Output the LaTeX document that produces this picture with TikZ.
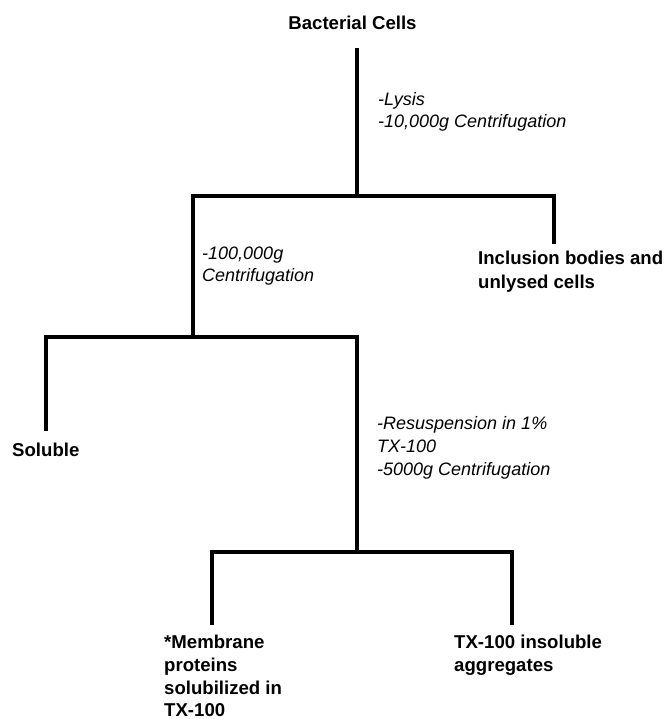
\documentclass[tikz,border=0pt]{standalone}
\usepackage{fontspec}
\setmainfont{Liberation Sans}
\begin{document}
\begin{tikzpicture}[x=1pt,y=-1pt,
  tree/.style={line width=4pt,line join=miter,line cap=rect},
  res/.style={font=\fontsize{18.6}{22}\selectfont\bfseries,inner sep=0pt,anchor=base west},
  cond/.style={font=\fontsize{18}{22}\selectfont\itshape,inner sep=0pt,anchor=base west}]
\fill[white] (0,0) rectangle (668,719);
\useasboundingbox (0,0) rectangle (668,719);
% text nodes
\node[res,anchor=base] (cells) at (352.5,30) {Bacterial Cells};
\node[cond] (lys1) at (378,106) {-Lysis};
\node[cond] (lys2) at (378,128) {-10,000g Centrifugation};
\node[cond] (c1) at (202,259) {-100,000g};
\node[cond] (c2) at (202,281) {Centrifugation};
\node[res] (inc1) at (478,264) {Inclusion bodies and};
\node[res] (inc2) at (478,288) {unlysed cells};
\node[res] (sol) at (12,456) {Soluble};
\node[cond] (r1) at (377,429) {-Resuspension in 1\%};
\node[cond] (r2) at (377,452) {TX-100};
\node[cond] (r3) at (377,475) {-5000g Centrifugation};
\node[res] (m1) at (164,648) {*Membrane};
\node[res] (m2) at (164,671) {proteins};
\node[res] (m3) at (164,694) {solubilized in};
\node[res] (m4) at (164,716) {TX-100};
\node[res] (tx1) at (454,648) {TX-100 insoluble};
\node[res] (tx2) at (454,671) {aggregates};
% tree coordinates
\coordinate (top) at (357,50);
\coordinate (j1) at (357,196);
\coordinate (l1) at (193,337);
\coordinate (r1e) at (554,242);
\coordinate (j2) at (357,337);
\coordinate (l2) at (46,429);
\coordinate (r2e) at (357,552);
\coordinate (l3) at (212,623);
\coordinate (r3e) at (512,623);
% connectors
\draw[tree] (top) -- (j1);
\draw[tree] (l1) -- (l1 |- j1) -- (r1e |- j1) -- (r1e);
\draw[tree] (l2) -- (l2 |- j2) -- (j2) -- (r2e);
\draw[tree] (l3) -- (l3 |- r2e) -- (r3e |- r2e) -- (r3e);
\end{tikzpicture}
\end{document}
